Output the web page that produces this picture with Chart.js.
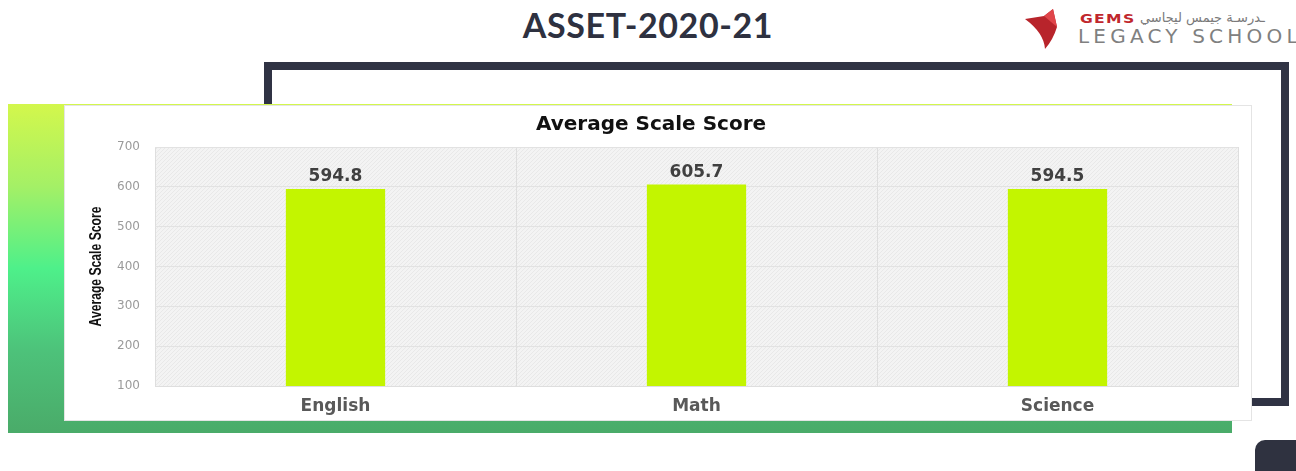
<!DOCTYPE html>
<html>
<head>
<meta charset="utf-8">
<script src="https://cdn.jsdelivr.net/npm/chart.js@4"></script>
<style>
  html, body { margin:0; padding:0; background:#fff; width:1296px; height:471px; overflow:hidden; position:relative; font-family:"Open Sans", sans-serif; }
  .title { position:absolute; left:0; width:1296px; top:4px; text-align:center; font-family:Lato, "Open Sans", sans-serif; font-weight:700; font-size:34px; color:#2e3140; letter-spacing:0.6px; }
  .frame { position:absolute; left:264px; top:62px; width:1009px; height:328px; border:8px solid #303344; }
  .panel { position:absolute; left:8px; top:104px; width:1224px; height:329px;
    background:linear-gradient(to bottom, #d3f74c 0%, #a4f066 25%, #4ef08a 50%, #4dc27a 75%, #4aab69 100%); }
  .box { position:absolute; left:64px; top:105px; width:1186px; height:314px; background:#fff; border:1px solid #e4e4e4; }
  canvas#c { position:absolute; left:64px; top:105px; }
  .corner { position:absolute; left:1255px; top:440px; width:50px; height:40px; background:#2f3240; border-top-left-radius:10px; }
  .logo { position:absolute; left:1022px; top:7px; }
  .gems { position:absolute; left:1080px; top:12px; font-family:"DejaVu Sans", sans-serif; font-weight:bold; font-size:12px; color:#c0272d; letter-spacing:1px; transform:scaleX(1.3); transform-origin:left top; }
  .arabic { position:absolute; left:1140px; top:10px; font-family:"DejaVu Sans", sans-serif; font-size:13px; color:#7a7a7a; white-space:nowrap; }
  .legacy { position:absolute; left:1078px; top:24px; font-family:"DejaVu Sans", sans-serif; font-weight:400; font-size:20px; color:#808080; letter-spacing:4.2px; white-space:nowrap; }
</style>
</head>
<body>
<div class="title">ASSET-2020-21</div>
<svg class="logo" width="44" height="44" viewBox="0 0 44 44">
  <path d="M3 12 L22 9 L31 2 L35 20 Q31 33 23 42 Q22 26 3 12 Z" fill="#b8242b"/>
  <path d="M22 9 L31 2 L35 20 Z" fill="#e0454a"/>
</svg>
<div class="gems">GEMS</div>
<div class="arabic">ـدرسـة جيمس ليجاسي</div>
<div class="legacy">LEGACY SCHOOL</div>
<div class="frame"></div>
<div class="panel"></div>
<div class="box"></div>
<canvas id="c" width="1188" height="316"></canvas>
<div class="corner"></div>
<script>
const categories = ["English", "Math", "Science"];
const scores = [594.8, 605.7, 594.5];
const yTicks = [100, 200, 300, 400, 500, 600, 700];
const chartTitle = "Average Scale Score";
const yAxisTitle = "Average Scale Score";

function makePattern(ctx) {
  const p = document.createElement('canvas');
  p.width = 4; p.height = 4;
  const g = p.getContext('2d');
  g.fillStyle = '#f3f3f3';
  g.fillRect(0,0,4,4);
  g.fillStyle = '#e8e8e8';
  g.fillRect(0,3,1,1); g.fillRect(1,2,1,1); g.fillRect(2,1,1,1); g.fillRect(3,0,1,1);
  return ctx.createPattern(p, 'repeat');
}

const bgPlugin = {
  id: 'plotBg',
  beforeDraw(chart) {
    const {ctx, chartArea:a} = chart;
    ctx.save();
    ctx.fillStyle = makePattern(ctx);
    ctx.fillRect(a.left, a.top, a.right - a.left, a.bottom - a.top);
    ctx.restore();
  }
};

const yTitlePlugin = {
  id: 'yTitle',
  afterDraw(chart) {
    const {ctx, chartArea:a} = chart;
    ctx.save();
    ctx.translate(33, (a.top + a.bottom) / 2);
    ctx.rotate(-Math.PI / 2);
    ctx.scale(0.76, 1);
    ctx.font = 'bold 16px "Liberation Sans", Arial, sans-serif';
    ctx.fillStyle = '#111';
    ctx.textAlign = 'center';
    ctx.textBaseline = 'middle';
    ctx.fillText(yAxisTitle, 0, 0);
    ctx.restore();
  }
};

const labelPlugin = {
  id: 'barLabels',
  afterDatasetsDraw(chart) {
    const {ctx} = chart;
    const meta = chart.getDatasetMeta(0);
    ctx.save();
    ctx.font = 'bold 17px "DejaVu Sans", sans-serif';
    ctx.fillStyle = '#404040';
    ctx.textAlign = 'center';
    ctx.textBaseline = 'middle';
    meta.data.forEach((bar, i) => {
      ctx.fillText(scores[i].toFixed(1), bar.x, bar.y - 12);
    });
    ctx.restore();
  }
};

new Chart(document.getElementById('c'), {
  type: 'bar',
  data: {
    labels: categories,
    datasets: [{
      data: scores,
      backgroundColor: '#c3f500',
      borderWidth: 0,
      categoryPercentage: 1,
      barPercentage: 0.275
    }]
  },
  options: {
    responsive: false,
    animation: false,
    layout: { padding: { left: 0, right: 14, top: 0, bottom: 0 } },
    plugins: {
      legend: { display: false },
      tooltip: { enabled: false },
      title: {
        display: true,
        text: chartTitle,
        color: '#111',
        font: { family: '"DejaVu Sans", sans-serif', weight: 'bold', size: 20, lineHeight: 1.2 },
        padding: { top: 8, bottom: 10 }
      }
    },
    scales: {
      x: {
        grid: { color: '#dedede', drawTicks: false, offset: true },
        border: { color: '#dedede' },
        ticks: { color: '#595959', font: { family: '"DejaVu Sans", sans-serif', weight: 'bold', size: 17 }, padding: 10 },
        afterFit(s) { s.height = 35; }
      },
      y: {
        min: 100, max: 700,
        afterBuildTicks(s) { s.ticks = yTicks.map(v => ({value: v})); },
        grid: { color: '#e2e2e2', drawTicks: false },
        border: { display: false },
        ticks: { color: '#9a9a9a', font: { family: '"DejaVu Sans", sans-serif', size: 12 }, padding: 15 },
        afterFit(s) { s.width = 91; }
      }
    }
  },
  plugins: [bgPlugin, yTitlePlugin, labelPlugin]
});
</script>
</body>
</html>
